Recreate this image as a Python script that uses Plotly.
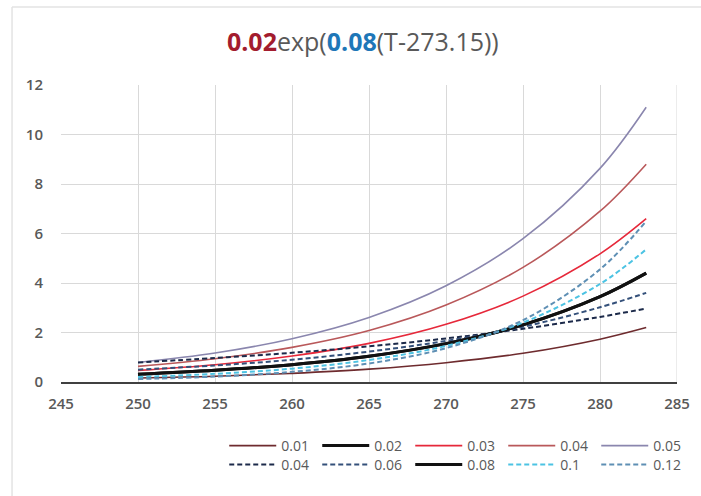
import plotly.graph_objects as go

# Temperature samples (K) at which each curve was read
temps = [250, 255, 260, 265, 270, 275, 280, 283]

# Solid curves: prefactor varied (0.01 ... 0.05), rate fixed at 0.08
pre_labels = ["0.01", "0.02", "0.03", "0.04", "0.05"]
pre_001 = [0.16, 0.23, 0.35, 0.52, 0.78, 1.16, 1.73, 2.20]
pre_002 = [0.31, 0.47, 0.70, 1.04, 1.55, 2.31, 3.45, 4.40]
pre_003 = [0.47, 0.70, 1.05, 1.56, 2.33, 3.47, 5.18, 6.60]
pre_004 = [0.63, 0.94, 1.40, 2.08, 3.11, 4.63, 6.90, 8.80]
pre_005 = [0.79, 1.17, 1.75, 2.61, 3.89, 5.79, 8.63, 11.10]

# Dashed curves: rate varied (0.04 ... 0.12), prefactor fixed at 0.02
rate_labels = ["0.04", "0.06", "0.08", "0.1", "0.12"]
rate_004 = [0.79, 0.97, 1.18, 1.44, 1.76, 2.15, 2.63, 2.97]
rate_006 = [0.50, 0.67, 0.90, 1.23, 1.66, 2.23, 3.02, 3.60]
rate_008 = [0.31, 0.47, 0.70, 1.04, 1.55, 2.31, 3.45, 4.40]
rate_010 = [0.20, 0.33, 0.54, 0.89, 1.46, 2.40, 3.96, 5.36]
rate_012 = [0.12, 0.22, 0.41, 0.75, 1.37, 2.50, 4.55, 6.50]

x_ticks = [245, 250, 255, 260, 265, 270, 275, 280, 285]
y_ticks = [0, 2, 4, 6, 8, 10, 12]

DASH = "5px,3px"
series = [
    (pre_labels[0], pre_001, "#6E2B2E", 1.6, "solid", "legend"),
    (pre_labels[1], pre_002, "#111111", 3.0, "solid", "legend"),
    (pre_labels[2], pre_003, "#E6283A", 1.6, "solid", "legend"),
    (pre_labels[3], pre_004, "#B9585A", 1.6, "solid", "legend"),
    (pre_labels[4], pre_005, "#8A86AE", 1.6, "solid", "legend"),
    (rate_labels[0], rate_004, "#1C2A4A", 2.0, DASH, "legend2"),
    (rate_labels[1], rate_006, "#34507A", 2.0, DASH, "legend2"),
    (rate_labels[2], rate_008, "#111111", 3.0, "solid", "legend2"),
    (rate_labels[3], rate_010, "#4CC3E3", 2.0, DASH, "legend2"),
    (rate_labels[4], rate_012, "#5E8FB4", 2.0, DASH, "legend2"),
]

fig = go.Figure()
for name, vals, color, width, dash, leg in series:
    fig.add_trace(go.Scatter(
        x=temps, y=vals, name=name, mode="lines", legend=leg,
        line=dict(color=color, width=width, dash=dash, shape="spline"),
    ))

font_family = "Open Sans, DejaVu Sans, sans-serif"
grey = "#595959"

legend_common = dict(
    orientation="h", xanchor="left", yanchor="middle",
    font=dict(size=14, color=grey, family=font_family),
    itemwidth=47, entrywidth=31, entrywidthmode="pixels",
    bgcolor="rgba(0,0,0,0)",
)

fig.update_layout(
    width=701, height=496,
    margin=dict(l=61, r=24, t=85, b=114, autoexpand=False),
    paper_bgcolor="white", plot_bgcolor="white",
    font=dict(family=font_family, color=grey, size=14),
    title=dict(
        text=("<b><span style='color:#A31C2E'>0.02</span></b>exp("
              "<b><span style='color:#1E77B8'>0.08</span></b>(T-273.15))"),
        x=0.49, xref="paper", xanchor="center",
        y=1 - 42 / 496, yref="container", yanchor="middle",
        font=dict(size=25, color=grey, family=font_family),
    ),
    xaxis=dict(
        range=[245, 285], tickvals=x_ticks, ticktext=[str(v) for v in x_ticks],
        showgrid=True, gridcolor="#D9D9D9", gridwidth=1,
        showline=True, linecolor="#404040", linewidth=1.5,
        zeroline=False, ticks="", fixedrange=True,
        tickfont=dict(size=15, color=grey, weight=600),
        ticklabelstandoff=7,
    ),
    yaxis=dict(
        range=[0, 12], tickvals=y_ticks, ticktext=[str(v) for v in y_ticks],
        showgrid=True, gridcolor="#D9D9D9", gridwidth=1,
        showline=False, zeroline=False, ticks="", fixedrange=True,
        tickfont=dict(size=15, color=grey, weight=600),
        ticklabelstandoff=17,
    ),
    legend=dict(x=0.265, y=-64 / 297, **legend_common),
    legend2=dict(x=0.265, y=-83 / 297, **legend_common),
    showlegend=True,
)

# Outer frame of the chart panel (left and top edges visible)
fig.add_shape(type="line", xref="paper", yref="paper",
              x0=-0.0795, x1=-0.0795, y0=-1.0, y1=1.2626,
              line=dict(color="#E3E3E3", width=1.5))
fig.add_shape(type="line", xref="paper", yref="paper",
              x0=-0.0795, x1=1.2, y0=1.2626, y1=1.2626,
              line=dict(color="#E3E3E3", width=1.5))
# Gridline on the right edge of the plot
fig.add_shape(type="line", xref="x", yref="paper",
              x0=285, x1=285, y0=0, y1=1,
              line=dict(color="#D9D9D9", width=1))

fig.write_html("out.html")
